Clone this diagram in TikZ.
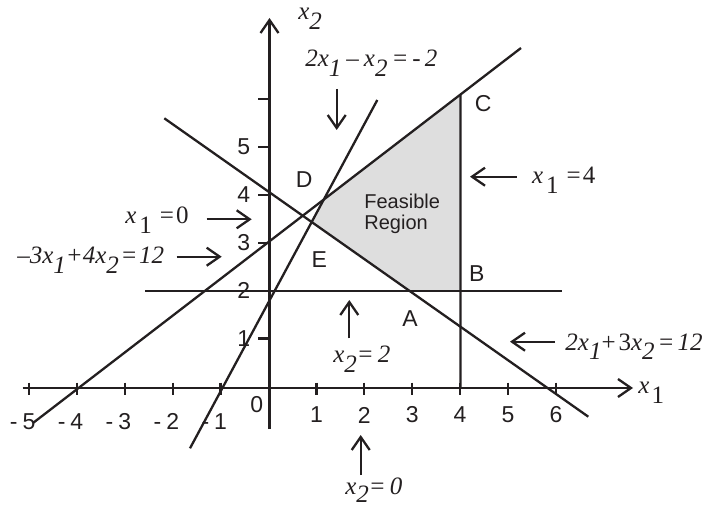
\documentclass[tikz,border=0pt]{standalone}
\usepackage{fontspec}
\setmainfont{Liberation Sans}
\newfontfamily\eqfont{Liberation Serif}
\usetikzlibrary{arrows.meta}
\definecolor{ink}{HTML}{231F20}
\definecolor{feas}{HTML}{DEDEDE}
\newcommand\sbs[1]{\raisebox{-5pt}{#1}}
\begin{document}
\begin{tikzpicture}[x=0.5pt,y=-0.5pt,
  ln/.style={draw=ink, line width=1.15pt},
  tip/.style={draw=ink, line width=1.15pt, -{Straight Barb[length=6.5pt,width=9pt]}},
  numlab/.style={font=\fontsize{11.5}{13}\selectfont, text=ink, inner sep=0pt},
  ptlab/.style={font=\fontsize{11.5}{13}\selectfont, text=ink, inner sep=0pt},
  reglab/.style={font=\fontsize{10}{12}\selectfont, text=ink, inner sep=0pt, anchor=base west},
  eq/.style={font=\eqfont\fontsize{12.5}{14}\selectfont, text=ink, inner sep=0pt, anchor=base west}]
\useasboundingbox (0,0) rectangle (702,508);

% constraint lines (end points)
\coordinate (L1a) at (33,423);     \coordinate (L1b) at (521,48);
\coordinate (L2a) at (190,448.3);  \coordinate (L2b) at (377.3,100);
\coordinate (L3a) at (164.3,118.3);\coordinate (L3b) at (588.3,416.7);
\coordinate (H2a) at (145,291);    \coordinate (H2b) at (562.3,291);
\coordinate (V4t) at (460.5,0);    \coordinate (V4b) at (460.5,388);

% vertices of the feasible region
\coordinate (P1) at (intersection of L1a--L1b and L2a--L2b);
\coordinate (P2) at (intersection of L1a--L1b and V4t--V4b);
\coordinate (P3) at (intersection of H2a--H2b and V4t--V4b);
\coordinate (P4) at (intersection of H2a--H2b and L3a--L3b);
\coordinate (P5) at (intersection of L3a--L3b and L2a--L2b);

\fill[feas] (P1) -- (P2) -- (P3) -- (P4) -- (P5) -- cycle;

% axes
\draw[tip] (22.7,388) coordinate (xa0) -- (633,388) coordinate (xa1);
\draw[tip] (269.5,429) coordinate (ya0) -- (269.5,18) coordinate (ya1);
\foreach \k in {-5,-4,-3,-2,-1,1,2,3,4,5,6}
  \draw[ln] ({268.5+47.9*\k},382.5) -- ({268.5+47.9*\k},394.5);
\foreach \k in {1,...,6}
  \draw[ln] (258,{386.5-47.9*\k}) -- (269.5,{386.5-47.9*\k});

% tick labels
\foreach \k in {1,...,6}
  \node[numlab] (tx\k) at ({268.5+47.9*\k},415) {\k};
\foreach \k in {1,...,5}
  \node[numlab] (txm\k) at ({268.5-47.9*\k},421.7) {\llap{-\hspace{2.5pt}}\k};
\node[numlab] (t0) at (256.7,405) {0};
\foreach \k in {1,...,5}
  \node[numlab, anchor=east] (ty\k) at (250.5,{386.5-47.9*\k}) {\k};

% constraint lines
\draw[ln] (L1a) -- (L1b);
\draw[ln] (L2a) -- (L2b);
\draw[ln] (L3a) -- (L3b);
\draw[ln] (H2a) -- (H2b);
\draw[ln] (P2) -- (V4b);

% corner labels
\node[ptlab] (C) at (483.3,103.3) {C};
\node[ptlab] (B) at (476.7,273.3) {B};
\node[ptlab] (A) at (410,318.3) {A};
\node[ptlab] (D) at (304.3,180) {D};
\node[ptlab] (E) at (319.3,260) {E};
\node[reglab] (fr1) at (364,208.3) {Feasible};
\node[reglab] (fr2) at (364,229.5) {Region};

% axis labels
\node[eq] (ax1) at (638,393.3) {\textit{x}\hspace{1pt}\sbs{1}};
\node[eq] (ax2) at (298,20) {\textit{x}\sbs{\textit{2}}};

% equation labels and arrows
\node[eq] (e1) at (305,66.7) {\textit{2x\sbs{1}\hspace{2.5pt}–\hspace{2.5pt}x\sbs{2}\hspace{2pt}=\hspace{2pt}-\hspace{2pt}2}};
\draw[tip] (336.7,89) coordinate (a1s) -- (336.7,130) coordinate (a1e);

\node[eq] (e2) at (531.7,183.3) {\textit{x}\hspace{1.5pt}\sbs{1}\hspace{4pt}=\hspace{1pt}4};
\draw[tip] (516.7,176.7) coordinate (a2s) -- (470,176.7) coordinate (a2e);

\node[eq] (e3) at (125,223.3) {\textit{x}\hspace{1.5pt}\sbs{1}\hspace{4pt}=\hspace{1pt}0};
\draw[tip] (206.7,219.3) coordinate (a3s) -- (251.7,219.3) coordinate (a3e);

\node[eq] (e4) at (17,263.3) {\textit{–3x\sbs{1}+4x\sbs{2}\hspace{0.8pt}=\hspace{0.8pt}12}};
\draw[tip] (176.7,256.7) coordinate (a4s) -- (221.7,256.7) coordinate (a4e);

\node[eq] (e5) at (333,362) {\textit{x\sbs{2}=\hspace{2pt}2}};
\draw[tip] (349.3,338.3) coordinate (a5s) -- (349.3,300) coordinate (a5e);

\node[eq] (e6) at (345,494.5) {\textit{x\raisebox{-4pt}{2}=\hspace{2pt}0}};
\draw[tip] (360.7,475) coordinate (a6s) -- (360.7,435) coordinate (a6e);

\node[eq] (e7) at (565,350) {\textit{2x\sbs{1}}+\hspace{1.5pt}3\textit{x\sbs{2}\hspace{1.5pt}=\hspace{1.5pt}12}};
\draw[tip] (555,341.7) coordinate (a7s) -- (510,341.7) coordinate (a7e);
\end{tikzpicture}
\end{document}
